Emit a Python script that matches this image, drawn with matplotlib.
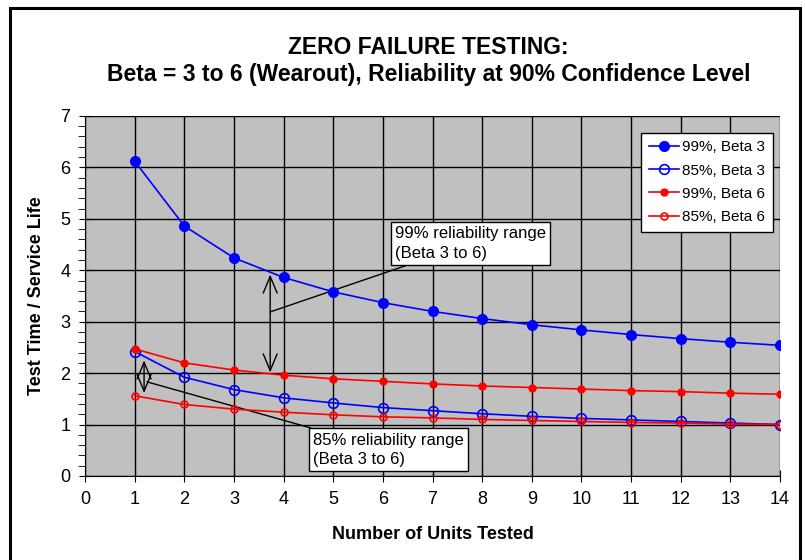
import matplotlib.pyplot as plt
import numpy as np
from matplotlib.patches import Rectangle

plt.rcParams['font.family'] = ['Liberation Sans', 'DejaVu Sans']

units = np.arange(1, 15)
r99_b3 = [6.12, 4.86, 4.24, 3.86, 3.58, 3.37, 3.20, 3.06, 2.94, 2.84, 2.75, 2.67, 2.60, 2.54]
r85_b3 = [2.42, 1.92, 1.68, 1.52, 1.42, 1.33, 1.27, 1.21, 1.16, 1.12, 1.09, 1.06, 1.03, 1.00]
r99_b6 = [2.47, 2.20, 2.06, 1.96, 1.89, 1.84, 1.79, 1.75, 1.72, 1.69, 1.66, 1.64, 1.61, 1.59]
r85_b6 = [1.56, 1.39, 1.30, 1.24, 1.19, 1.15, 1.13, 1.10, 1.08, 1.06, 1.04, 1.03, 1.01, 1.00]

fig = plt.figure(figsize=(8.05, 5.6), dpi=100)
ax = fig.add_axes([0.1056, 0.15, 0.8634, 0.643])
ax.set_facecolor('#c0c0c0')

# outer frame
fig.patches.append(Rectangle((10 / 805, -0.01), 790 / 805, 1 - 8 / 560 + 0.01,
                             transform=fig.transFigure, fill=False,
                             edgecolor='black', linewidth=2.2))

ax.plot(units, r99_b3, color='blue', marker='o', markersize=7, lw=1.2,
        label='99%, Beta 3', zorder=4)
ax.plot(units, r85_b3, color='blue', marker='o', markersize=7, lw=1.2,
        markerfacecolor='none', markeredgewidth=1.2, label='85%, Beta 3', zorder=4)
ax.plot(units, r99_b6, color='red', marker='o', markersize=5, lw=1.2,
        label='99%, Beta 6', zorder=4)
ax.plot(units, r85_b6, color='red', marker='o', markersize=5, lw=1.2,
        markerfacecolor='none', markeredgewidth=1.2, label='85%, Beta 6', zorder=4)

ax.set_xlim(0, 14)
ax.set_ylim(0, 7)
ax.set_xticks(range(0, 15))
ax.set_yticks(range(0, 8))
ax.set_yticks(np.arange(0, 7.01, 0.2), minor=True)
ax.grid(True, which='major', color='black', linewidth=1)
ax.set_axisbelow(True)
ax.tick_params(axis='both', which='major', direction='inout', length=9,
               labelsize=13, pad=6)
ax.tick_params(axis='y', which='minor', direction='out', length=5)
for s in ['top', 'right']:
    ax.spines[s].set_visible(False)

ax.set_xlabel('Number of Units Tested', fontsize=13, fontweight='bold', labelpad=13)
ax.set_ylabel('Test Time / Service Life', fontsize=13, fontweight='bold', labelpad=11)

fig.text(0.532, 0.915, 'ZERO FAILURE TESTING:', ha='center', va='center',
         fontsize=16.5, fontweight='bold')
fig.text(0.532, 0.867, 'Beta = 3 to 6 (Wearout), Reliability at 90% Confidence Level',
         ha='center', va='center', fontsize=16.5, fontweight='bold')

leg = ax.legend(loc='upper right', bbox_to_anchor=(0.99, 0.953), fancybox=False,
                framealpha=1, edgecolor='black', fontsize=11, handlelength=2.0,
                borderpad=0.5, labelspacing=0.6, handletextpad=0.2,
                borderaxespad=0)
leg.get_frame().set_linewidth(1)

# range arrows
arr = dict(arrowstyle='<->,head_length=0.6,head_width=0.25', color='black',
           lw=1, mutation_scale=20)
ax.annotate('', xy=(3.73, 3.97), xytext=(3.73, 1.96), arrowprops=arr)
ax.annotate('', xy=(1.19, 2.30), xytext=(1.19, 1.56), arrowprops=arr)

box = dict(boxstyle='square,pad=0.25', facecolor='white', edgecolor='black', lw=1)
ax.annotate('99% reliability range\n(Beta 3 to 6)', xy=(3.73, 3.19), xytext=(6.25, 4.52),
            fontsize=12, va='center', ha='left', bbox=box, linespacing=1.35,
            arrowprops=dict(arrowstyle='-', color='black', lw=1, shrinkA=0, shrinkB=0))
ax.annotate('85% reliability range\n(Beta 3 to 6)', xy=(1.25, 1.83), xytext=(4.59, 0.51),
            fontsize=12, va='center', ha='left', bbox=box, linespacing=1.35,
            arrowprops=dict(arrowstyle='-', color='black', lw=1, shrinkA=0, shrinkB=0))

fig.savefig('out.png', dpi=100)
